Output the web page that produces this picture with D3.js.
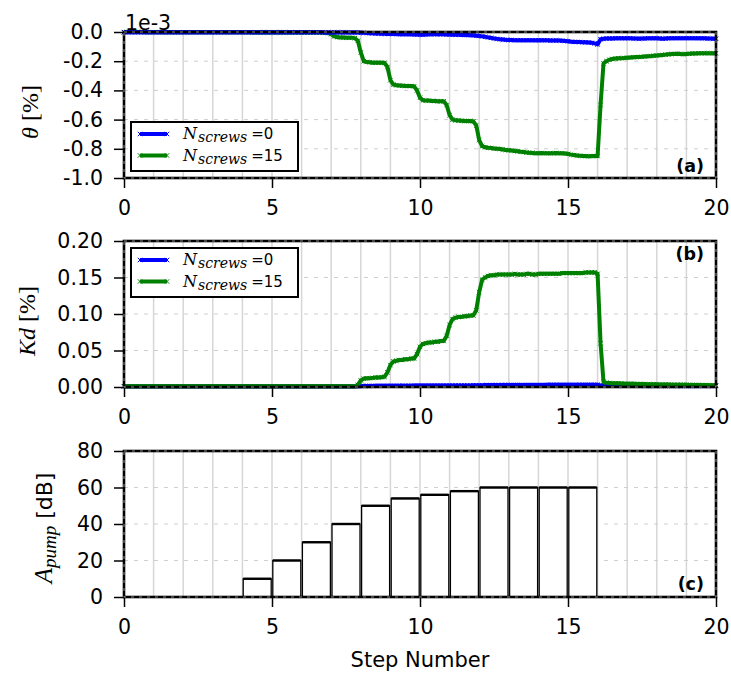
<!DOCTYPE html>
<html><head><meta charset="utf-8">
<script src="https://cdn.jsdelivr.net/npm/d3@7"></script>
<style>body{margin:0;background:#fff}</style>
</head><body>
<svg id="c" width="731" height="679"></svg>
<script>
// ---------------- DATA ----------------
const stepX = d3.range(201).map(i => i / 10);   // sample positions (step number)
const xTicks = [0, 5, 10, 15, 20];
const thetaTicks = [0, -0.2, -0.4, -0.6, -0.8, -1.0];
const kdTicks = [0, 0.05, 0.10, 0.15, 0.20];
const pumpTicks = [0, 20, 40, 60, 80];
const seriesLabels = ["0", "15"];
const seriesColors = ["#0000ff", "#008000"];

// theta, units of 1e-3 %
const theta0 = [
-0.002,-0.002,-0.002,-0.002,-0.002,-0.002,-0.002,-0.002,-0.002,-0.002,
-0.002,-0.002,-0.002,-0.002,-0.002,-0.002,-0.002,-0.002,-0.002,-0.002,
-0.002,-0.002,-0.002,-0.002,-0.002,-0.002,-0.002,-0.002,-0.002,-0.002,
-0.002,-0.002,-0.002,-0.002,-0.002,-0.002,-0.002,-0.002,-0.002,-0.002,
-0.002,-0.002,-0.002,-0.002,-0.002,-0.002,-0.002,-0.002,-0.002,-0.002,
-0.002,-0.002,-0.002,-0.002,-0.002,-0.002,-0.002,-0.002,-0.002,-0.002,
-0.002,-0.002,-0.002,-0.002,-0.002,-0.002,-0.002,-0.002,-0.003,-0.003,
-0.003,-0.003,-0.003,-0.003,-0.003,-0.003,-0.004,-0.004,-0.004,-0.004,
-0.005,-0.006,-0.007,-0.008,-0.009,-0.010,-0.011,-0.012,-0.012,-0.013,
-0.013,-0.014,-0.014,-0.015,-0.015,-0.015,-0.016,-0.016,-0.017,-0.017,
-0.018,-0.018,-0.017,-0.016,-0.015,-0.015,-0.015,-0.016,-0.016,-0.017,
-0.017,-0.018,-0.018,-0.019,-0.020,-0.020,-0.021,-0.022,-0.023,-0.025,
-0.027,-0.030,-0.033,-0.037,-0.040,-0.044,-0.047,-0.050,-0.052,-0.054,
-0.055,-0.055,-0.056,-0.056,-0.056,-0.057,-0.056,-0.056,-0.057,-0.057,
-0.057,-0.057,-0.056,-0.057,-0.058,-0.058,-0.058,-0.059,-0.060,-0.061,
-0.063,-0.066,-0.068,-0.068,-0.069,-0.070,-0.071,-0.072,-0.074,-0.078,
-0.085,-0.050,-0.046,-0.045,-0.044,-0.044,-0.043,-0.043,-0.043,-0.043,
-0.043,-0.043,-0.044,-0.045,-0.046,-0.045,-0.044,-0.043,-0.043,-0.043,
-0.043,-0.044,-0.046,-0.044,-0.043,-0.043,-0.042,-0.042,-0.042,-0.042,
-0.042,-0.042,-0.042,-0.042,-0.043,-0.043,-0.043,-0.044,-0.045,-0.046,-0.046];

const theta15 = [
 0.000, 0.000, 0.000, 0.000, 0.000, 0.000, 0.000,-0.001,-0.001,-0.001,
-0.001,-0.001,-0.001,-0.002,-0.002,-0.002,-0.002,-0.002,-0.002,-0.002,
-0.002,-0.002,-0.002,-0.002,-0.002,-0.002,-0.002,-0.002,-0.002,-0.002,
-0.002,-0.002,-0.002,-0.002,-0.002,-0.002,-0.002,-0.002,-0.002,-0.002,
-0.002,-0.002,-0.002,-0.003,-0.003,-0.003,-0.003,-0.003,-0.003,-0.003,
-0.003,-0.003,-0.003,-0.003,-0.003,-0.003,-0.003,-0.003,-0.003,-0.003,
-0.003,-0.003,-0.003,-0.003,-0.004,-0.004,-0.004,-0.005,-0.006,-0.008,
-0.015,-0.030,-0.035,-0.037,-0.038,-0.040,-0.040,-0.040,-0.042,-0.060,
-0.140,-0.200,-0.205,-0.207,-0.210,-0.210,-0.210,-0.210,-0.212,-0.240,
-0.330,-0.360,-0.365,-0.366,-0.368,-0.370,-0.370,-0.370,-0.372,-0.400,
-0.450,-0.468,-0.470,-0.470,-0.472,-0.473,-0.474,-0.475,-0.475,-0.500,
-0.570,-0.600,-0.605,-0.606,-0.608,-0.610,-0.610,-0.610,-0.612,-0.640,
-0.740,-0.782,-0.790,-0.793,-0.795,-0.798,-0.800,-0.802,-0.805,-0.808,
-0.810,-0.812,-0.815,-0.817,-0.820,-0.822,-0.825,-0.827,-0.828,-0.830,
-0.830,-0.829,-0.830,-0.830,-0.831,-0.830,-0.829,-0.830,-0.831,-0.832,
-0.835,-0.840,-0.843,-0.846,-0.848,-0.850,-0.850,-0.851,-0.850,-0.850,
-0.850,-0.500,-0.215,-0.200,-0.190,-0.185,-0.182,-0.180,-0.179,-0.178,
-0.176,-0.175,-0.173,-0.172,-0.171,-0.170,-0.168,-0.166,-0.165,-0.163,
-0.161,-0.159,-0.157,-0.155,-0.153,-0.151,-0.150,-0.149,-0.150,-0.152,
-0.150,-0.149,-0.148,-0.147,-0.146,-0.146,-0.145,-0.145,-0.146,-0.146,-0.146];

// Kd, %
const kd0 = [
0.001,0.001,0.001,0.001,0.001,0.001,0.001,0.001,0.001,0.001,
0.001,0.001,0.001,0.001,0.001,0.001,0.001,0.001,0.001,0.001,
0.001,0.001,0.001,0.001,0.001,0.001,0.001,0.001,0.001,0.001,
0.001,0.001,0.001,0.001,0.001,0.001,0.001,0.001,0.001,0.001,
0.001,0.001,0.001,0.001,0.001,0.001,0.001,0.001,0.001,0.001,
0.001,0.001,0.001,0.001,0.001,0.001,0.001,0.001,0.001,0.001,
0.001,0.001,0.001,0.001,0.001,0.001,0.001,0.001,0.001,0.001,
0.001,0.001,0.001,0.001,0.001,0.001,0.001,0.001,0.001,0.001,
0.0015,0.0015,0.0015,0.0015,0.0015,0.0016,0.0016,0.0016,0.0016,0.0017,
0.0017,0.0017,0.0017,0.0018,0.0018,0.0018,0.0018,0.0018,0.0019,0.0019,
0.0019,0.0019,0.0019,0.002,0.002,0.002,0.002,0.002,0.002,0.002,
0.002,0.002,0.0021,0.0021,0.0021,0.0022,0.0022,0.0022,0.0023,0.0023,
0.0024,0.0025,0.0026,0.0026,0.0027,0.0027,0.0027,0.0027,0.0028,0.0028,
0.0028,0.0028,0.0028,0.0028,0.0028,0.0029,0.0029,0.0029,0.0029,0.0029,
0.0029,0.0029,0.0029,0.003,0.003,0.003,0.003,0.003,0.003,0.003,
0.003,0.003,0.003,0.003,0.003,0.003,0.003,0.003,0.003,0.003,
0.003,0.0022,0.002,0.002,0.0019,0.0019,0.0018,0.0018,0.0018,0.0017,
0.0017,0.0017,0.0016,0.0016,0.0016,0.0016,0.0015,0.0015,0.0015,0.0015,
0.0015,0.0015,0.0015,0.0015,0.0015,0.0015,0.0015,0.0015,0.0015,0.0015,
0.0015,0.0015,0.0015,0.0015,0.0015,0.0015,0.0015,0.0015,0.0015,0.0015,0.0015];

const kd15 = [
0.001,0.001,0.001,0.001,0.001,0.001,0.001,0.001,0.001,0.001,
0.001,0.001,0.001,0.001,0.001,0.001,0.001,0.001,0.001,0.001,
0.001,0.001,0.001,0.001,0.001,0.001,0.001,0.001,0.001,0.001,
0.001,0.001,0.001,0.001,0.001,0.001,0.001,0.001,0.001,0.001,
0.001,0.001,0.001,0.001,0.001,0.001,0.001,0.001,0.001,0.001,
0.001,0.001,0.001,0.001,0.001,0.001,0.001,0.001,0.001,0.001,
0.001,0.001,0.001,0.001,0.001,0.001,0.001,0.001,0.001,0.001,
0.001,0.001,0.001,0.001,0.001,0.001,0.001,0.001,0.001,0.003,
0.009,0.0115,0.012,0.012,0.0125,0.013,0.013,0.0135,0.014,0.020,
0.030,0.035,0.036,0.037,0.037,0.038,0.038,0.039,0.039,0.045,
0.055,0.059,0.060,0.061,0.061,0.062,0.062,0.063,0.063,0.070,
0.085,0.093,0.095,0.096,0.096,0.097,0.097,0.098,0.098,0.105,
0.130,0.147,0.150,0.152,0.153,0.153,0.154,0.154,0.154,0.154,
0.154,0.154,0.155,0.154,0.154,0.154,0.155,0.155,0.154,0.154,
0.155,0.155,0.155,0.155,0.155,0.155,0.155,0.155,0.156,0.156,
0.156,0.156,0.156,0.156,0.156,0.156,0.157,0.157,0.157,0.157,
0.155,0.060,0.007,0.006,0.0055,0.005,0.005,0.005,0.0048,0.0046,
0.0045,0.0044,0.0043,0.0042,0.0041,0.004,0.004,0.0039,0.0038,0.0037,
0.0036,0.0035,0.0034,0.0034,0.0033,0.0032,0.0032,0.0031,0.003,0.003,
0.003,0.0029,0.0028,0.0028,0.0027,0.0027,0.0026,0.0026,0.0025,0.0025,0.0025];

// pump amplitude per step, dB
const pumpSteps  = [0,1,2,3,4,5,6,7,8,9,10,11,12,13,14,15,16,17,18,19];
const pumpValues = [0,0,0,0,10,20,30,40,50,54,56,58,60,60,60,60,0,0,0,0];

// ---------------- CHART ----------------
const svg = d3.select("#c");
const L = 124, R = 716;
const x = d3.scaleLinear().domain([0, 20]).range([L, R]);
const panels = [
  {top: 32,  bottom: 178, domain: [-1.0, 0], ticks: thetaTicks, fmt: d => d.toFixed(1)},
  {top: 241, bottom: 387, domain: [0, 0.20], ticks: kdTicks,    fmt: d => d.toFixed(2)},
  {top: 451, bottom: 597, domain: [0, 80],   ticks: pumpTicks,  fmt: d => String(d)}
];
panels.forEach(p => { p.y = d3.scaleLinear().domain(p.domain).range([p.bottom, p.top]); });

const FONT = "DejaVu Sans";
const SERIF = "DejaVu Serif";

function grid(p) {
  const g = svg.append("g");
  g.selectAll("line.v").data(d3.range(1, 20)).join("line")
    .attr("x1", d => x(d)).attr("x2", d => x(d))
    .attr("y1", p.top).attr("y2", p.bottom)
    .attr("stroke", "#d6d6d6").attr("stroke-width", 1.5);
  const d0 = p.domain;
  g.selectAll("line.h").data(p.ticks.filter(t => t !== d0[0] && t !== d0[1])).join("line")
    .attr("x1", L).attr("x2", R)
    .attr("y1", d => p.y(d)).attr("y2", d => p.y(d))
    .attr("stroke", "#cfcfcf").attr("stroke-width", 1).attr("stroke-dasharray", "4,6");
}

function axes(p) {
  const ya = svg.append("g").attr("transform", `translate(${L},0)`)
    .call(d3.axisLeft(p.y).tickValues(p.ticks).tickFormat(p.fmt).tickSize(10).tickPadding(11));
  const xa = svg.append("g").attr("transform", `translate(0,${p.bottom})`)
    .call(d3.axisBottom(x).tickValues(xTicks).tickFormat(d => String(d)).tickSize(10).tickPadding(12));
  [ya, xa].forEach(a => {
    a.select(".domain").remove();
    a.selectAll(".tick line").attr("stroke", "#000").attr("stroke-width", 1.5);
    a.selectAll(".tick text").attr("font-family", FONT).attr("font-size", 20.5).attr("fill", "#000");
  });
}

function frame(p) {
  svg.append("rect").attr("x", L).attr("y", p.top).attr("width", R - L).attr("height", p.bottom - p.top)
    .attr("fill", "none").attr("stroke", "#000").attr("stroke-width", 2.6);
  svg.append("rect").attr("x", L).attr("y", p.top).attr("width", R - L).attr("height", p.bottom - p.top)
    .attr("fill", "none").attr("stroke", "#b0b0b0").attr("stroke-width", 0.8).attr("stroke-dasharray", "3,5");
}

const markerPath = "M-2.2,-2.2L2.2,2.2M-2.2,2.2L2.2,-2.2";
function series(p, vals, color) {
  const pts = stepX.map((sx, i) => [sx, vals[i]]);
  const line = d3.line().x(d => x(d[0])).y(d => p.y(d[1]));
  const g = svg.append("g");
  g.append("path").attr("d", line(pts)).attr("fill", "none")
    .attr("stroke", color).attr("stroke-width", 4).attr("stroke-linejoin", "round");
  g.selectAll("path.m").data(pts).join("path")
    .attr("d", markerPath).attr("transform", d => `translate(${x(d[0])},${p.y(d[1])})`)
    .attr("stroke", color).attr("stroke-width", 1).attr("fill", "none");
}

function legend(top) {
  const g = svg.append("g");
  g.append("rect").attr("x", 131).attr("y", top).attr("width", 167).attr("height", 49)
    .attr("fill", "#fff").attr("stroke", "#000").attr("stroke-width", 2);
  seriesLabels.forEach((lab, i) => {
    const yy = top + 12 + i * 21.5;
    g.append("line").attr("x1", 140).attr("x2", 167).attr("y1", yy).attr("y2", yy)
      .attr("stroke", seriesColors[i]).attr("stroke-width", 4);
    [140, 167].forEach(mx => g.append("path").attr("d", markerPath)
      .attr("transform", `translate(${mx},${yy})`).attr("stroke", seriesColors[i]).attr("fill", "none"));
    const t = g.append("text").attr("x", 183).attr("y", yy + 5)
      .attr("font-family", SERIF).attr("font-size", 16).attr("fill", "#000");
    t.append("tspan").attr("font-style", "italic").text("N");
    t.append("tspan").attr("font-style", "italic").attr("font-size", 14).attr("dy", 3).attr("dx", 1).text("screws");
    t.append("tspan").attr("dy", -3).attr("dx", 4).attr("font-size", 15).text("=");
    t.append("tspan").attr("font-family", FONT).attr("font-size", 15).text(lab);
  });
}

// panel a
grid(panels[0]);
series(panels[0], theta15, seriesColors[1]);
series(panels[0], theta0, seriesColors[0]);
axes(panels[0]); frame(panels[0]);
legend(122);

// panel b
grid(panels[1]);
series(panels[1], kd0, seriesColors[0]);
series(panels[1], kd15, seriesColors[1]);
axes(panels[1]); frame(panels[1]);
legend(248);

// panel c
grid(panels[2]);
const pc = panels[2];
const bars = svg.append("g");
pumpSteps.forEach((s, i) => {
  const v = pumpValues[i];
  if (v <= 0) return;
  bars.append("rect").attr("x", x(s) + 0.8).attr("width", x(s + 1) - x(s) - 1.6)
    .attr("y", pc.y(v)).attr("height", pc.y(0) - pc.y(v))
    .attr("fill", "#fff").attr("stroke", "#000").attr("stroke-width", 1.3);
  bars.append("line").attr("x1", x(s) + 0.8).attr("x2", x(s + 1) - 0.8)
    .attr("y1", pc.y(v)).attr("y2", pc.y(v)).attr("stroke", "#000").attr("stroke-width", 2.4);
});
axes(pc); frame(pc);

// texts
svg.append("text").attr("x", 125).attr("y", 30).attr("font-family", FONT).attr("font-size", 20.5).text("1e-3");

function plabel(t, yb) {
  svg.append("text").attr("x", 704).attr("y", yb).attr("text-anchor", "end")
    .attr("font-family", FONT).attr("font-weight", "bold").attr("font-size", 17.5).text(t);
}
plabel("(a)", 172); plabel("(b)", 260); plabel("(c)", 590);

function ylab(xb, yc) {
  return svg.append("text").attr("transform", `translate(${xb},${yc}) rotate(-90)`)
    .attr("text-anchor", "middle").attr("font-size", 24).attr("fill", "#000");
}
let t1 = ylab(38, 112);
t1.append("tspan").attr("font-family", "Liberation Serif").attr("font-style", "italic").text("θ");
t1.append("tspan").attr("font-family", "Liberation Serif").text(" [%]");
let t2 = ylab(35, 321);
t2.append("tspan").attr("font-family", "Liberation Serif").attr("font-style", "italic").text("Kd");
t2.append("tspan").attr("font-family", "Liberation Serif").text(" [%]");
let t3 = ylab(52, 528);
t3.append("tspan").attr("font-family", "Liberation Serif").attr("font-style", "italic").attr("font-size", 25).text("A");
t3.append("tspan").attr("font-family", "Liberation Serif").attr("font-style", "italic").attr("font-size", 19).attr("dy", 4).text("pump");
t3.append("tspan").attr("font-family", FONT).attr("font-size", 22).attr("dy", -4).text(" [dB]");

svg.append("text").attr("x", (L + R) / 2).attr("y", 667).attr("text-anchor", "middle")
  .attr("font-family", FONT).attr("font-size", 21).text("Step Number");
</script>
</body></html>
